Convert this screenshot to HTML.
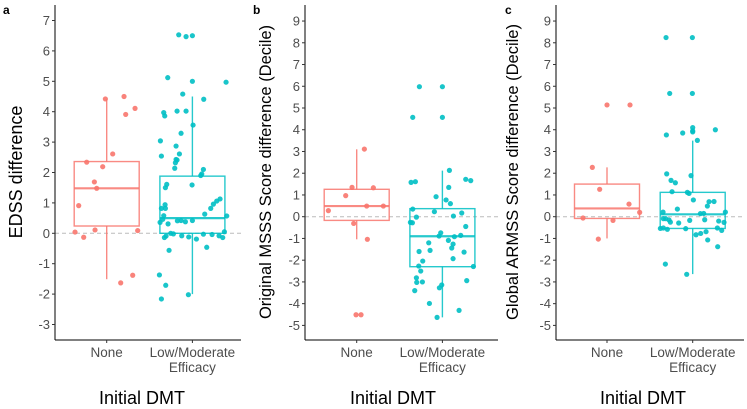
<!DOCTYPE html>
<html><head><meta charset="utf-8"><style>
html,body{margin:0;padding:0;background:#fff;}
svg{display:block;font-family:"Liberation Sans",Arial,sans-serif;}
</style></head><body>
<svg id="chart" width="747" height="409" viewBox="0 0 747 409"></svg>
<script>
const categories = ["None", "Low/Moderate Efficacy"];
// Panel a: EDSS difference
const aNoneVals = [4.42,4.5,4.11,3.91,2.61,2.34,2.19,1.69,1.48,0.91,0.11,0.09,0.04,-0.13,-1.63,-1.38];
const aNoneJit = [-4,52,85,57,18,-60,-12,-37,-30,-84,-35,93,-95,-69,42,78];
const aLowVals = [6.53,6.47,6.5,5.12,5.0,4.97,4.58,4.41,3.97,3.86,4.02,4.02,3.56,3.29,3.04,2.87,2.61,2.54,2.43,2.32,2.41,2.14,2.1,1.95,1.9,1.59,1.61,1.5,1.13,1.06,0.96,0.94,0.82,0.82,0.82,0.63,0.58,0.57,0.41,0.38,0.42,0.36,0.46,0.31,0.42,0,-0.09,-0.14,-0.02,-0.08,-0.12,-0.19,-0.03,-0.04,-0.08,-0.14,0.05,-0.46,-0.56,-1.37,-1.71,-2.02,-2.16];
const aLowJit = [-41,-19,0,-74,0,101,-29,34,-86,-83,-46,-19,2,-34,-96,-49,-39,-93,-49,-51,-46,-53,33,28,25,-1,-77,-81,83,73,63,-82,55,-93,-81,37,-86,103,-45,-21,0,-97,-89,-73,-34,-65,-79,-84,-57,-32,-11,12,33,59,80,91,96,43,-70,-99,-80,-12,-93];
const aNoneBox = [-1.51,0.24,1.48,2.36,4.42];
const aLowBox = [-2.0,0.0,0.5,1.88,4.5];
const aTicks = [-3,-2,-1,0,1,2,3,4,5,6,7];
// Panel b: Original MSSS
const bNoneVals = [3.11,1.35,1.33,0.97,0.49,0.49,0.28,-0.31,-1.04,-4.51,-4.51];
const bNoneJit = [23,-14,50,-33,30,80,-85,-9,32,-2,13];
const bLowVals = [5.98,5.98,4.57,4.57,2.13,1.72,1.66,1.61,1.58,1.35,0.92,0.77,0.6,0.35,0.23,0.17,0.03,-0.02,-0.26,-0.28,-0.45,-0.74,-0.89,-0.92,-0.86,-1.2,-1.09,-1.26,-1.44,-1.6,-1.55,-1.63,-2.04,-1.93,-2.29,-2.27,-2.5,-2.81,-3.02,-3.0,-2.94,-3.4,-3.27,-3.14,-3.99,-4.31,-4.63];
const bLowJit = [-69,0,-89,0,21,70,85,-81,-94,19,-19,11,24,-89,-24,58,33,-78,-96,-90,70,-5,-10,36,55,-41,18,32,28,-70,-37,65,-59,32,93,-71,-65,-78,-77,-60,73,-83,-9,-2,-39,50,-16];
const bNoneBox = [-1.04,-0.17,0.49,1.26,3.1];
const bLowBox = [-4.63,-2.3,-0.9,0.37,2.12];
const bTicks = [-5,-4,-3,-2,-1,0,1,2,3,4,5,6,7,8,9];
// Panel c: Global ARMSS
const cNoneVals = [2.27,5.14,5.14,1.26,0.58,0.2,-0.06,-0.17,-1.03];
const cNoneJit = [-44,0,69,-22,66,98,-72,18,-26];
const cLowVals = [8.24,8.24,5.67,5.67,4.1,3.95,3.9,3.85,4.0,3.76,3.51,1.97,1.67,1.56,1.15,1.12,1.07,1.89,0.77,0.35,0.69,0.7,0.49,0.21,0.14,0.15,0.21,-0.09,-0.09,-0.15,-0.25,-0.29,-0.17,-0.14,-0.2,-0.26,-0.63,-0.52,-0.54,-0.52,-0.58,-0.55,-0.83,-0.77,-0.69,-1.07,-1.38,-2.18,-2.65];
const cLowJit = [-80,-1,-69,-1,0,0,0,-30,68,-79,14,-78,-65,-52,-62,-16,-11,-5,2,-46,49,64,44,-89,23,33,98,-88,-81,-71,-67,-42,-9,36,78,94,87,74,-97,-88,-76,-21,10,24,40,45,75,-82,-18];
const cNoneBox = [-1.0,-0.08,0.38,1.5,2.27];
const cLowBox = [-2.64,-0.54,0.11,1.12,3.5];
const cTicks = [-5,-4,-3,-2,-1,0,1,2,3,4,5,6,7,8,9];

const RED="#F8766D", TEAL="#00BFC4";
const svg=document.getElementById('chart');
const NS="http://www.w3.org/2000/svg";
function mk(tag,attrs,parent,text){const e=document.createElementNS(NS,tag);for(const k in attrs)e.setAttribute(k,attrs[k]);if(text!==undefined)e.textContent=text;(parent||svg).appendChild(e);return e;}

const panels=[
 {id:'a',letter:'a',lx:3,axisX:55,right:241,zeroY:233.3,unit:30.4,c0:106.7,sp:85.7,ticks:aTicks,title:'EDSS difference',tx:22,ty:172,titleSize:18,xt:142,
  groups:[[aNoneVals,aNoneJit,aNoneBox,RED],[aLowVals,aLowJit,aLowBox,TEAL]]},
 {id:'b',letter:'b',lx:253,axisX:305,right:498,zeroY:216.7,unit:21.74,c0:356.7,sp:85.7,ticks:bTicks,title:'Original MSSS Score difference (Decile)',tx:271,ty:172,titleSize:16.5,xt:393,
  groups:[[bNoneVals,bNoneJit,bNoneBox,RED],[bLowVals,bLowJit,bLowBox,TEAL]]},
 {id:'c',letter:'c',lx:505,axisX:556,right:744,zeroY:216.7,unit:21.74,c0:607,sp:85.7,ticks:cTicks,title:'Global ARMSS Score difference (Decile)',tx:518,ty:172,titleSize:16.5,xt:643,
  groups:[[cNoneVals,cNoneJit,cNoneBox,RED],[cLowVals,cLowJit,cLowBox,TEAL]]}
];

panels.forEach(p=>{
  const g=mk('g',{});
  
  
  const y=v=>p.zeroY-v*p.unit;
  const x=(ci,j)=>p.c0+ci*p.sp+j/3;
  // zero line
  const zl=mk('line',{x1:p.axisX,x2:p.right,y1:y(0),y2:y(0),stroke:'#bbbbbb','stroke-width':1,'stroke-dasharray':'4,3'},g);
  
  
  // boxes
  p.groups.forEach((gr,ci)=>{
    const [vals,jit,box,col]=gr;
    const cx=x(ci,0), hw=32.5;
    const bg=mk('g',{stroke:col,'stroke-width':1.4,fill:'none','stroke-opacity':0.85},g);
    
    
    mk('line',{x1:cx,x2:cx,y1:y(box[4]),y2:y(box[3])},bg);
    mk('line',{x1:cx,x2:cx,y1:y(box[1]),y2:y(box[0])},bg);
    mk('rect',{x:cx-hw,y:y(box[3]),width:2*hw,height:y(box[1])-y(box[3])},bg);
    mk('line',{x1:cx-hw,x2:cx+hw,y1:y(box[2]),y2:y(box[2]),'stroke-width':2.2},bg);
    vals.forEach((v,i)=>{
      const c=mk('circle',{cx:x(ci,jit[i]),cy:y(v),r:2.6,fill:col,'fill-opacity':0.9},g);
      
      
    });
  });
  // axes
  const ya=mk('line',{x1:p.axisX,x2:p.axisX,y1:5,y2:340,stroke:'#000','stroke-width':1},g);
  
  
  const xa=mk('line',{x1:p.axisX,x2:p.right,y1:340,y2:340,stroke:'#000','stroke-width':1},g);
  
  
  p.ticks.forEach(t=>{
    mk('line',{x1:p.axisX-3,x2:p.axisX,y1:y(t),y2:y(t),stroke:'#333','stroke-width':1},g);
    const tl=mk('text',{x:p.axisX-5,y:y(t)+4.5,'text-anchor':'end','font-size':13,fill:'#4d4d4d'},g,String(t));
    
    
  });
  categories.forEach((c,ci)=>{
    const cx=x(ci,0);
    mk('line',{x1:cx,x2:cx,y1:340,y2:343,stroke:'#333'},g);
    const t=mk('text',{x:cx,y:357,'text-anchor':'middle','font-size':13.5,fill:'#4d4d4d'},g);
    
    
    if(ci===0){t.textContent=c;}
    else{
      mk('tspan',{x:cx,dy:0},t,'Low/Moderate');
      mk('tspan',{x:cx,dy:15},t,'Efficacy');
    }
  });
  const yt=mk('text',{x:p.tx,y:p.ty,'text-anchor':'middle','font-size':p.titleSize,fill:'#000',transform:`rotate(-90 ${p.tx} ${p.ty})`},g,p.title);
  
  
  const xt=mk('text',{x:p.xt,y:404,'text-anchor':'middle','font-size':18,fill:'#000'},g,'Initial DMT');
  
  
  const pl=mk('text',{x:p.lx,y:14,'font-size':12,'font-weight':'bold',fill:'#000'},g,p.letter);
  
  
});
</script>
</body></html>
